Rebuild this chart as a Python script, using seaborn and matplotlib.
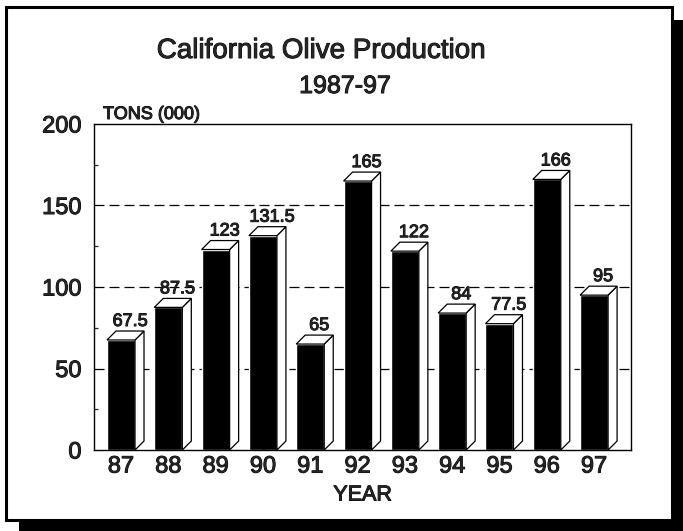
import matplotlib
matplotlib.use("Agg")
import matplotlib.pyplot as plt
import matplotlib.patheffects as pe
import seaborn as sns
import pandas as pd
from matplotlib.patches import Polygon, Rectangle

# data
years = ["87", "88", "89", "90", "91", "92", "93", "94", "95", "96", "97"]
tons = [67.5, 87.5, 123, 131.5, 65, 165, 122, 84, 77.5, 166, 95]
value_labels = ["67.5", "87.5", "123", "131.5", "65", "165", "122", "84", "77.5", "166", "95"]
grid_levels = [50, 100, 150]

df = pd.DataFrame({"year": years, "tons": tons})

sns.set_style("white")
plt.rcParams["font.family"] = ["Liberation Sans", "DejaVu Sans"]
# reference text is heavy, thicken slightly
heavy = [pe.withStroke(linewidth=0.7, foreground="black")]

W, H = 683, 531
fig = plt.figure(figsize=(W / 100, H / 100), dpi=100)


def fx(x):
    return x / W


def fy(y):
    return 1 - y / H


ax = fig.add_axes([fx(94), fy(450), fx(631) - fx(94), fy(124) - fy(450)])

# dashed grid behind the bars
for g in grid_levels:
    ax.axhline(g, color="black", lw=0.9, dashes=(8, 4), zorder=0)

sns.barplot(data=df, x="year", y="tons", color="black", width=0.592,
            saturation=1, ax=ax, zorder=2)

# fake 3D faces
dx, dy = 0.19, 5.5
for p, lab in zip(ax.patches, value_labels):
    xl = p.get_x()
    xr = xl + p.get_width()
    h = p.get_height()
    side = Polygon([(xr, 0), (xr + dx, dy), (xr + dx, h + dy), (xr, h)],
                   closed=True, facecolor="white", edgecolor="black", lw=0.9, zorder=3)
    top = Polygon([(xl, h), (xl + dx, h + dy), (xr + dx, h + dy), (xr, h)],
                  closed=True, facecolor="white", edgecolor="black", lw=0.9, zorder=3)
    ax.add_patch(side)
    ax.add_patch(top)
    ax.annotate(lab, (xl + p.get_width() / 2 + dx, h + dy), xytext=(0, 3.6),
                textcoords="offset points", ha="center", va="baseline",
                fontsize=13, path_effects=heavy)

ax.set_xlim(-0.571, 10.78)
ax.set_ylim(0, 200)
ax.set_yticks([0, 50, 100, 150, 200])
ax.set_yticks([25, 75, 125, 175], minor=True)
ax.tick_params(axis="y", which="major", length=0, pad=9, labelsize=17)
ax.tick_params(axis="y", which="minor", direction="in", length=3, width=0.9, left=True)
ax.tick_params(axis="x", length=0, pad=4, labelsize=17)
for t in ax.get_xticklabels() + ax.get_yticklabels():
    t.set_path_effects(heavy)
for s in ax.spines.values():
    s.set_visible(True)
    s.set_color("black")
    s.set_linewidth(1.0)
ax.set_xlabel("YEAR", fontsize=15.5, labelpad=5, path_effects=heavy)
ax.set_ylabel("")

fig.text(fx(321), fy(58), "California Olive Production", ha="center", va="baseline",
         fontsize=20, path_effects=heavy)
fig.text(fx(345), fy(93), "1987-97", ha="center", va="baseline", fontsize=18,
         path_effects=heavy)
fig.text(fx(103), fy(119), "TONS (000)", ha="left", va="baseline", fontsize=13,
         path_effects=heavy)

# frame with drop shadow
fig.add_artist(Rectangle((fx(19), fy(531)), fx(683) - fx(19), fy(520) - fy(531),
                         transform=fig.transFigure, facecolor="black", edgecolor="none"))
fig.add_artist(Rectangle((fx(672), fy(531)), fx(683) - fx(672), fy(20) - fy(531),
                         transform=fig.transFigure, facecolor="black", edgecolor="none"))
fig.add_artist(Rectangle((fx(5.5), fy(519.5)), fx(672) - fx(5.5), fy(7) - fy(519.5),
                         transform=fig.transFigure, facecolor="none", edgecolor="black", lw=2.2))

fig.savefig("out.png", dpi=100)
